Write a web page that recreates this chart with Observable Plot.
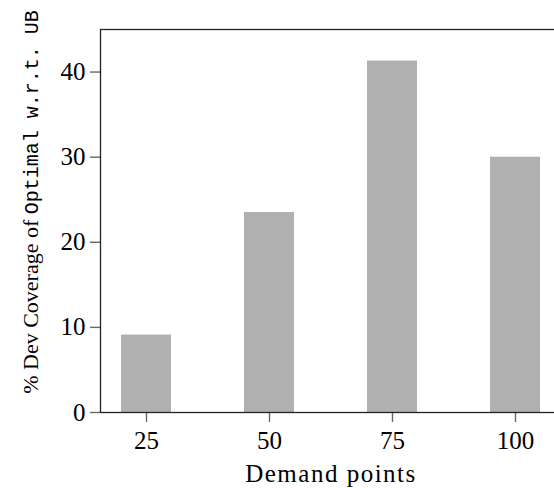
<!DOCTYPE html>
<html>
<head>
<meta charset="utf-8">
<script src="https://cdn.jsdelivr.net/npm/d3@7"></script>
<script src="https://cdn.jsdelivr.net/npm/@observablehq/plot@0.6"></script>
<style>
  html, body { margin: 0; padding: 0; background: #fff; }
  #chart { width: 554px; height: 488px; overflow: hidden; }
</style>
</head>
<body>
<div id="chart"></div>
<script>
const demandPoints = [25, 50, 75, 100];
const devCoverage = [9.1, 23.5, 41.3, 30.0];
const yTicks = [0, 10, 20, 30, 40];
const xLabel = "Demand points";
const yLabelSerif = "% Dev Coverage of ";
const yLabelMono = "Optimal w.r.t. UB";

const data = demandPoints.map((d, i) => ({demand: d, value: devCoverage[i]}));

const chart = Plot.plot({
  width: 554,
  height: 488,
  marginLeft: 100,
  marginTop: 29,
  marginBottom: 76,
  marginRight: -7,
  style: {fontFamily: "Liberation Serif", fontSize: "25px", color: "#000", background: "#fff", overflow: "hidden"},
  x: {type: "band", domain: demandPoints, paddingInner: 0.593, paddingOuter: 0.17, align: 0.5},
  y: {domain: [0, 45]},
  marks: [
    Plot.barY(data, {x: "demand", y: "value", fill: "#b0b0b0"}),
    Plot.axisY({ticks: yTicks, tickSize: 10, tickPadding: 5, stroke: "#666", strokeWidth: 1.4, label: null}),
    Plot.axisX({tickSize: 10, tickPadding: 9, stroke: "#666", strokeWidth: 1.4, label: xLabel, labelAnchor: "center", labelOffset: 69}),
    Plot.frame({stroke: "#222", strokeWidth: 1.3})
  ]
});
document.getElementById("chart").appendChild(chart);

const svg = d3.select(chart);
svg.selectAll("text").attr("font-family", "Liberation Serif").style("font-family", "Liberation Serif").style("font-size", "25px");
svg.selectAll("text").filter(function() { return this.textContent === xLabel; }).style("letter-spacing", "1.5px");

const t = svg.append("text")
  .attr("transform", "translate(38,202) rotate(-90)")
  .attr("text-anchor", "middle")
  .attr("fill", "#000")
  .attr("font-size", "22");
t.append("tspan").attr("font-family", "Liberation Serif").style("font-family", "Liberation Serif").text(yLabelSerif);
t.append("tspan").attr("font-family", "Liberation Mono").style("font-family", "Liberation Mono").style("font-size", "20px").text(yLabelMono);
</script>
</body>
</html>
